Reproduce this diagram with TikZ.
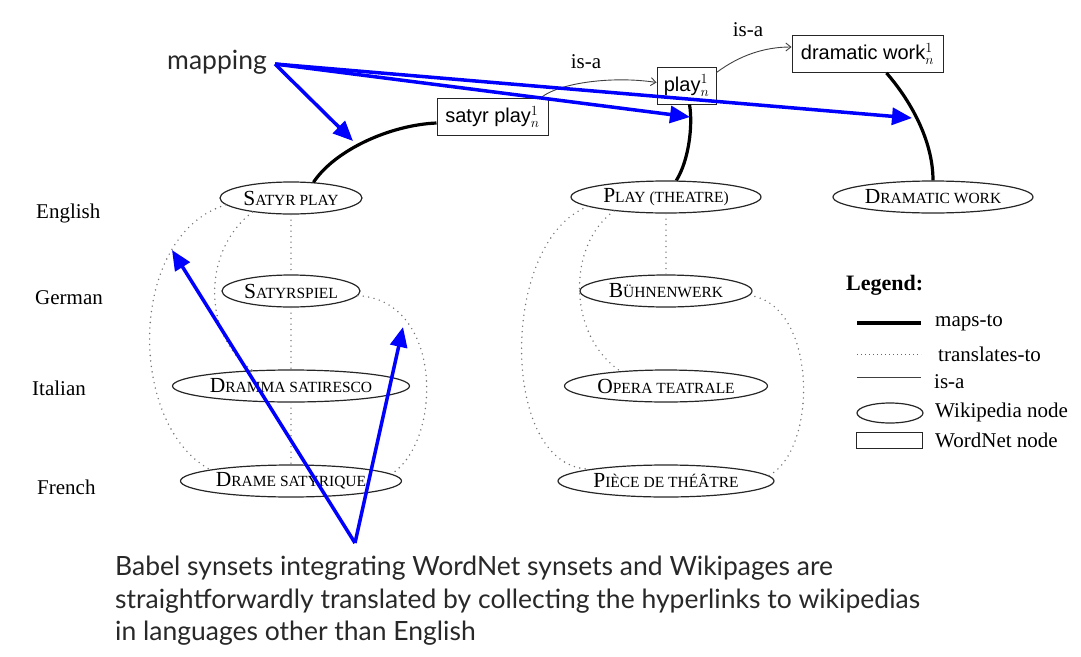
\documentclass[tikz,border=0pt]{standalone}
\usepackage{fix-cm}
\usepackage{fontspec}
\setmainfont{Liberation Serif}
\newfontfamily\hvfont{Liberation Sans}
\newfontfamily\gsfont{Lato}
\usetikzlibrary{shapes.geometric,arrows.meta,calc}
\definecolor{bblue}{RGB}{0,0,255}
\definecolor{txtgray}{RGB}{40,40,40}
\newcommand\wsc[2]{{\fontsize{21.5}{21.5}\selectfont #1}{\fontsize{15.5}{15.5}\selectfont #2}}
\begin{document}
\begin{tikzpicture}[x=1pt,y=-1pt,
  wiki/.style={ellipse,draw=black!85,line width=1.2pt,inner sep=0pt,minimum height=32pt},
  wn/.style={rectangle,draw=black!85,line width=1pt,inner sep=0pt,minimum height=37pt,font=\hvfont\fontsize{20}{22}\selectfont},
  lang/.style={anchor=west,inner sep=0pt,font=\fontsize{21}{21}\selectfont},
  legtxt/.style={anchor=west,inner sep=0pt,font=\fontsize{21}{21}\selectfont},
  mapsto/.style={line width=3.2pt,black},
  trans/.style={black!55,line width=1.6pt,dash pattern=on 0pt off 5.5pt,line cap=round},
  isa/.style={black!75,line width=0.9pt},
  isaarrow/.style={isa,-{Straight Barb[length=5pt,width=8pt]}},
  bluearrow/.style={bblue,line width=3.5pt,-{Triangle[length=20pt,width=17pt]}},
  caption/.style={anchor=base west,inner sep=0pt,text=txtgray,font=\gsfont\fontsize{26.5}{26.5}\selectfont},
]
\useasboundingbox (0,0) rectangle (1081,656);

% WordNet nodes
\node[wn,minimum width=111pt] (sbox) at (492.5,117) {satyr play$^{1}_{n}$};
\node[wn,minimum width=59pt] (pbox) at (686.5,85.5) {play$^{1}_{n}$};
\node[wn,minimum width=151pt] (dbox) at (867.5,54) {dramatic work$^{1}_{n}$};

% Wikipedia nodes
\node[wiki,minimum width=142pt] (sp) at (291,198) {\wsc{S}{ATYR PLAY}};
\node[wiki,minimum width=138pt] (ss) at (291,291) {\wsc{S}{ATYRSPIEL}};
\node[wiki,minimum width=237pt] (dm) at (291,386) {\wsc{D}{RAMMA SATIRESCO}};
\node[wiki,minimum width=221pt] (ds) at (291,481) {\wsc{D}{RAME SATYRIQUE}};
\node[wiki,minimum width=190pt] (pt) at (666,197) {\wsc{P}{LAY (THEATRE)}};
\node[wiki,minimum width=172pt] (bw) at (666,291) {\wsc{B}{ÜHNENWERK}};
\node[wiki,minimum width=203pt] (ot) at (666,386) {\wsc{O}{PERA TEATRALE}};
\node[wiki,minimum width=216pt] (pd) at (666,481) {\wsc{P}{IÈCE DE THÉÂTRE}};
\node[wiki,minimum width=200pt] (dw) at (933,197) {\wsc{D}{RAMATIC WORK}};

% language labels
\node[lang] (en) at (36,213) {English};
\node[lang] (de) at (35,298) {German};
\node[lang] (it) at (32,388) {Italian};
\node[lang] (fr) at (37,487) {French};

% is-a labels
\node[font=\fontsize{21}{21}\selectfont,inner sep=0pt] (isa1) at (586,62) {is-a};
\node[font=\fontsize{21}{21}\selectfont,inner sep=0pt] (isa2) at (748,30) {is-a};

% translates-to
\draw[trans] (sp.south) -- (ss.north);
\draw[trans] (ss.south) -- (dm.north);
\draw[trans] (dm.south) -- (ds.north);
\draw[trans] (pt.south) -- (bw.north);
\draw[trans] (sp.200) .. controls (202,250) and (202,335) .. (dm.158);
\draw[trans] (sp.186) .. controls (127,235) and (127,425) .. (ds.172);
\draw[trans] (ss.-4) .. controls (443,300) and (443,440) .. (ds.4);
\draw[trans] (pt.195) .. controls (567,245) and (567,335) .. (ot.162);
\draw[trans] (pt.187) .. controls (499,240) and (499,470) .. (pd.171);
\draw[trans] (bw.-3) .. controls (818,305) and (818,450) .. (pd.3);

% maps-to
\draw[mapsto] ($(sbox.west)+(0,6)$) .. controls (390,125) and (335,150) .. (sp.35);
\draw[mapsto] ($(pbox.south)+(3,0)$) .. controls (693,125) and (689,160) .. (pt.58);
\draw[mapsto] ($(dbox.south)+(19,0)$) .. controls (910,100) and (933,140) .. (dw.north);

% is-a
\draw[isaarrow] ($(sbox.north east)+(-8,0)$) .. controls (560,82) and (615,76) .. ($(pbox.west)+(0,-3)$);
\draw[isaarrow] ($(pbox.east)+(0,-13)$) .. controls (740,55) and (765,47) .. ($(dbox.west)+(0,-7)$);

% legend
\node[anchor=west,inner sep=0pt,font=\bfseries\fontsize{22}{22}\selectfont] (leg) at (846,285) {Legend:};
\coordinate (l1a) at (857,323); \coordinate (l1b) at (921,323);
\coordinate (l2a) at (857,354); \coordinate (l2b) at (921,354);
\coordinate (l3a) at (857,377); \coordinate (l3b) at (921,377);
\draw[mapsto] (l1a) -- (l1b);
\draw[black!60,line width=0.8pt,dash pattern=on 0.8pt off 3.2pt] (l2a) -- (l2b);
\draw[isa] (l3a) -- (l3b);
\node[ellipse,draw=black!85,line width=1.2pt,inner sep=0pt,minimum width=66pt,minimum height=20pt] (le) at (890,413) {};
\node[rectangle,draw=black!85,line width=1pt,inner sep=0pt,minimum width=66pt,minimum height=16pt] (lr) at (889,440) {};
\node[legtxt] (t1) at (935,323) {maps-to};
\node[legtxt] (t2) at (938,354) {translates-to};
\node[legtxt] (t3) at (934,382) {is-a};
\node[legtxt] (t4) at (935,412) {Wikipedia node};
\node[legtxt] (t5) at (935,440) {WordNet node};

% mapping annotation
\node[anchor=base west,inner sep=0pt,text=txtgray,font=\gsfont\fontsize{26.5}{26.5}\selectfont] (map) at (167,69) {mapping};
\coordinate (ms) at (275,64);
\coordinate (m1) at (353,141);
\coordinate (m2) at (690,117);
\coordinate (m3) at (912,118);
\draw[bluearrow] (ms) -- (m1);
\draw[bluearrow] (ms) -- (m2);
\draw[bluearrow] (ms) -- (m3);

% caption
\node[caption] (cap1) at (115,575) {Babel synsets integrating WordNet synsets and Wikipages are};
\node[caption] (cap2) at (115,608) {straightforwardly translated by collecting the hyperlinks to wikipedias};
\node[caption] (cap3) at (115,640) {in languages other than English};
\coordinate (cs) at (355,543);
\coordinate (c1) at (172,250);
\coordinate (c2) at (403,327);
\draw[bluearrow] (cs) -- (c1);
\draw[bluearrow] (cs) -- (c2);
\end{tikzpicture}
\end{document}
